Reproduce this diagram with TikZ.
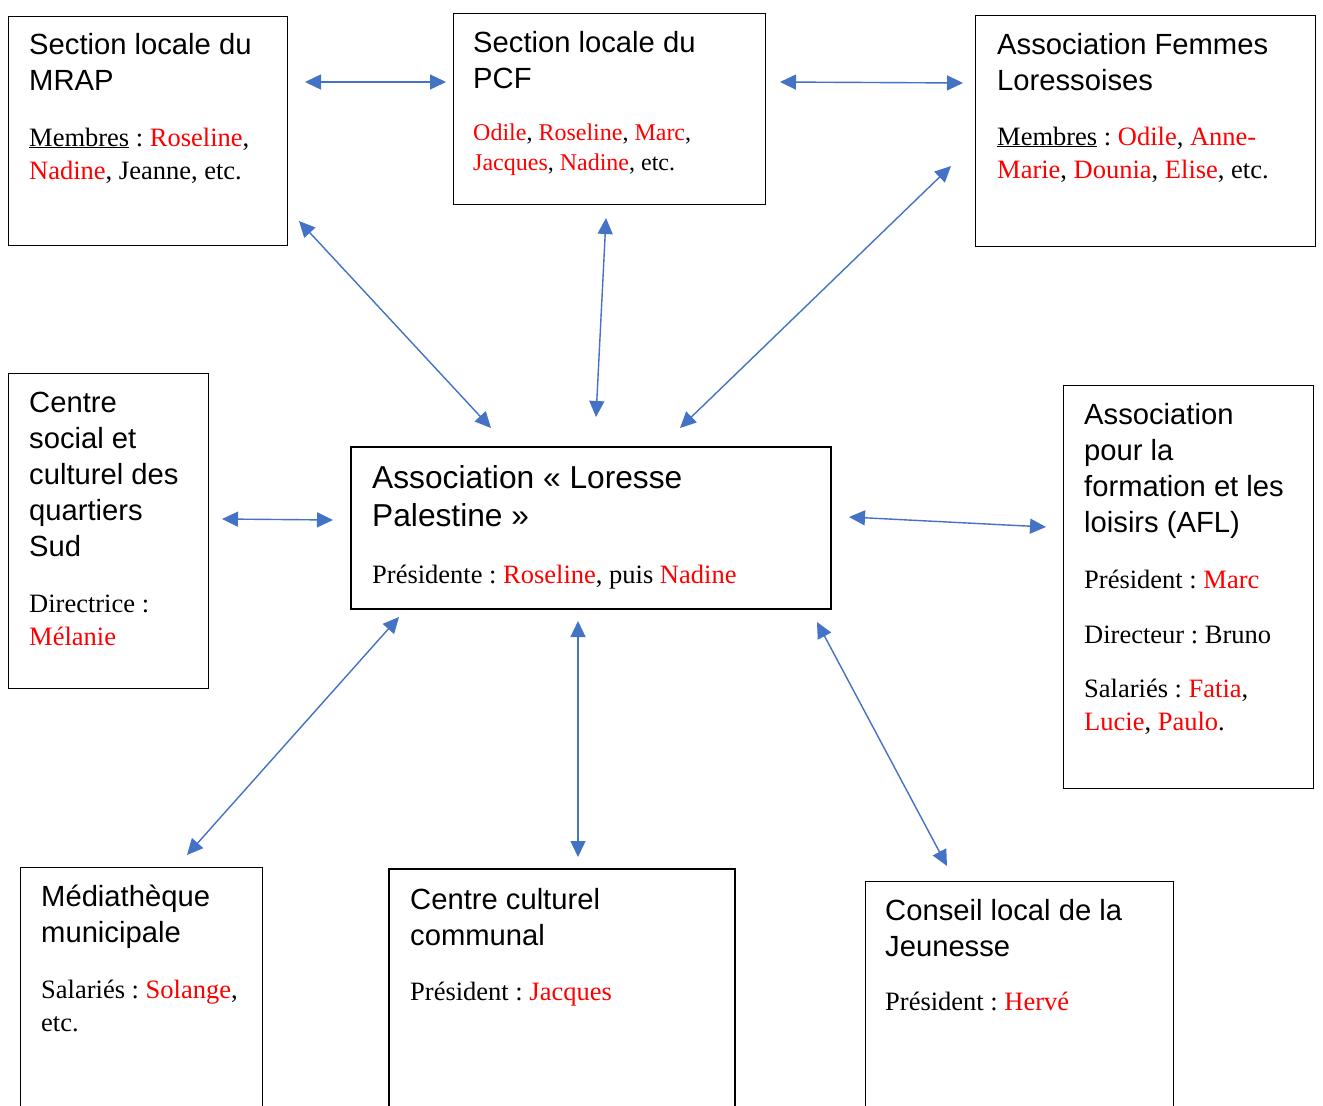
\documentclass[tikz,border=0pt]{standalone}
\usepackage{fontspec}
\setmainfont{Liberation Serif}
\newfontfamily\hsans{Liberation Sans}
\usetikzlibrary{arrows.meta}
\definecolor{arrblue}{HTML}{4472C4}
\definecolor{nred}{HTML}{FF0000}
\newcommand\rd[1]{\textcolor{nred}{#1}}
\newcommand\ttlf{\hsans\fontsize{29.2}{36}\selectfont}
\newcommand\bigttlf{\hsans\fontsize{31.7}{38}\selectfont}
\newcommand\bdyf{\rmfamily\fontsize{26.5}{33}\selectfont}
\newcommand\smbdyf{\rmfamily\fontsize{24}{30}\selectfont}
\setlength\parskip{0pt}
\frenchspacing
\newcommand\blk[1]{\begin{minipage}[t]{420pt}\raggedright\frenchspacing #1\end{minipage}}
\begin{document}
\begin{tikzpicture}[x=1pt,y=-1pt,
  box/.style={draw=black, line width=1.3pt, rectangle, anchor=north west, inner sep=0pt},
  thickbox/.style={box, line width=2.4pt},
  txt/.style={anchor=base west, inner sep=0pt},
  conn/.style={draw=arrblue, line width=1.4pt, {Triangle[length=16pt,width=15pt]}-{Triangle[length=16pt,width=15pt]}}]
\useasboundingbox (0,0) rectangle (1323,1106);
\fill[white] (0,0) rectangle (1323,1106);

% boxes
\node[box, minimum width=279pt, minimum height=229pt] (mrap) at (8,16) {};
\node[box, minimum width=312pt, minimum height=191pt] (pcf) at (453,13) {};
\node[box, minimum width=340pt, minimum height=231pt] (femmes) at (975,15) {};
\node[box, minimum width=200pt, minimum height=315pt] (social) at (8,373) {};
\node[thickbox, minimum width=480pt, minimum height=162pt] (loresse) at (350,446) {};
\node[box, minimum width=250pt, minimum height=403pt] (afl) at (1063,385) {};
\node[box, minimum width=242pt, minimum height=260pt] (media) at (20,867) {};
\node[thickbox, minimum width=346pt, minimum height=260pt] (culturel) at (388,868) {};
\node[box, minimum width=308pt, minimum height=250pt] (conseil) at (865,881) {};

% texts
\node[txt] (mrapt) at (29,54) {\blk{{\ttlf Section locale du\\MRAP\par}\vspace{23pt}
  {\bdyf \underline{Membres} : \rd{Roseline},\\\rd{Nadine}, Jeanne, etc.\par}}};
\node[txt] (pcft) at (473,52) {\blk{{\ttlf Section locale du\\PCF\par}\vspace{22pt}
  {\smbdyf \rd{Odile}, \rd{Roseline}, \rd{Marc},\\\rd{Jacques}, \rd{Nadine}, etc.\par}}};
\node[txt] (femmest) at (997,54) {\blk{{\ttlf Association Femmes\\Loressoises\par}\vspace{22pt}
  {\bdyf \underline{Membres} : \rd{Odile}, \rd{Anne-}\\\rd{Marie}, \rd{Dounia}, \rd{Elise}, etc.\par}}};
\node[txt] (socialt) at (29,412) {\blk{{\ttlf Centre\\social et\\culturel des\\quartiers\\Sud\par}\vspace{23pt}
  {\bdyf Directrice :\\\rd{Mélanie}\par}}};
\node[txt] (loresset) at (372,488) {\blk{{\bigttlf Association « Loresse\\Palestine »\par}\vspace{24pt}
  {\bdyf Présidente : \rd{Roseline}, puis \rd{Nadine}\par}}};
\node[txt] (aflt) at (1084,424) {\blk{{\ttlf Association\\pour la\\formation et les\\loisirs (AFL)\par}\vspace{23pt}
  {\bdyf Président : \rd{Marc}\par}\vspace{22pt}
  {\bdyf Directeur : Bruno\par}\vspace{21pt}
  {\bdyf Salariés : \rd{Fatia},\\\rd{Lucie}, \rd{Paulo}.\par}}};
\node[txt] (mediat) at (41,906) {\blk{{\ttlf Médiathèque\\municipale\par}\vspace{23pt}
  {\bdyf Salariés : \rd{Solange},\\etc.\par}}};
\node[txt] (culturelt) at (410,909) {\blk{{\ttlf Centre culturel\\communal\par}\vspace{22pt}
  {\bdyf Président : \rd{Jacques}\par}}};
\node[txt] (conseilt) at (885,920) {\blk{{\ttlf Conseil local de la\\Jeunesse\par}\vspace{21pt}
  {\bdyf Président : \rd{Hervé}\par}}};

% connector end points
\coordinate (mp1) at (305,82);   \coordinate (mp2) at (446,82);
\coordinate (pf1) at (780,82);   \coordinate (pf2) at (963,83);
\coordinate (ml1) at (299,221);  \coordinate (ml2) at (491,428);
\coordinate (pl1) at (606,218);  \coordinate (pl2) at (596,417);
\coordinate (fl1) at (951,166);  \coordinate (fl2) at (680,428);
\coordinate (sl1) at (222,519);  \coordinate (sl2) at (333,520);
\coordinate (la1) at (849,517);  \coordinate (la2) at (1046,527);
\coordinate (lm1) at (399,617);  \coordinate (lm2) at (187,855);
\coordinate (lc1) at (578,621);  \coordinate (lc2) at (578,857);
\coordinate (lj1) at (817,622);  \coordinate (lj2) at (947,866);

\draw[conn] (mp1) -- (mp2);
\draw[conn] (pf1) -- (pf2);
\draw[conn] (ml1) -- (ml2);
\draw[conn] (pl1) -- (pl2);
\draw[conn] (fl1) -- (fl2);
\draw[conn] (sl1) -- (sl2);
\draw[conn] (la1) -- (la2);
\draw[conn] (lm1) -- (lm2);
\draw[conn] (lc1) -- (lc2);
\draw[conn] (lj1) -- (lj2);
\end{tikzpicture}
\end{document}
